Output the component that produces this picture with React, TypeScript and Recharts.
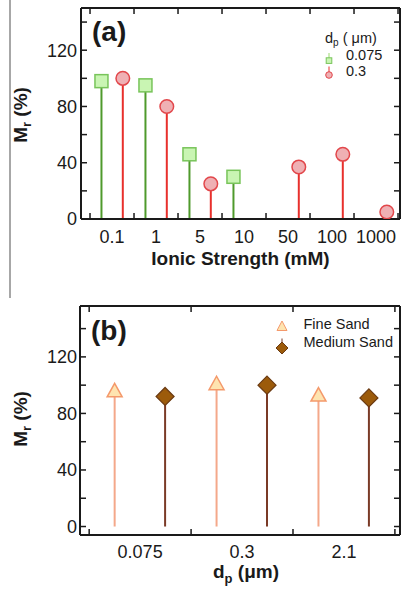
import React from "react";
import { ComposedChart, XAxis, YAxis, Scatter, ReferenceLine, Label } from "recharts";

// panel (a): recovery vs ionic strength, two particle sizes
const ionicCats = ["0.1", "1", "5", "10", "50", "100", "1000"];
const mr0075 = [98, 95, 46, 30, null, null, null];
const mr03 = [100, 80, 25, null, 37, 46, 5];

// panel (b): recovery vs particle size, two sands
const sizeCats = ["0.075", "0.3", "2.1"];
const fineSand = [96, 101, 93];
const mediumSand = [92, 100, 91];

const yTicks = [0, 20, 40, 60, 80, 100, 120, 140];
const yLabelTicks = [0, 40, 80, 120];

const FONT = '"Liberation Sans", Arial, Helvetica, sans-serif';
const INK = "#1a1a1a";

type Pt = { x: number; y: number };

function stemPoints(vals: (number | null)[], off: number): Pt[] {
  return vals.flatMap((v, i) => (v == null ? [] : [{ x: i + 0.5 + off, y: v }]));
}

const square = ({ cx, cy }: any) => (
  <rect x={cx - 6.5} y={cy - 6.5} width={13} height={13} fill="#c9f5b3" stroke="#78c45a" strokeWidth={1.5} />
);
const circle = ({ cx, cy }: any) => (
  <circle cx={cx} cy={cy} r={6.8} fill="#efb0b4" stroke="#e2474b" strokeWidth={1.5} />
);
const triangle = ({ cx, cy }: any) => (
  <polygon
    points={`${cx},${cy - 7.5} ${cx + 7.5},${cy + 6} ${cx - 7.5},${cy + 6}`}
    fill="#fee4b0"
    stroke="#f4996b"
    strokeWidth={1.5}
  />
);
const diamond = ({ cx, cy }: any) => (
  <polygon
    points={`${cx},${cy - 9} ${cx + 9},${cy} ${cx},${cy + 9} ${cx - 9},${cy}`}
    fill="#9c5b0b"
    stroke="#6b3a12"
    strokeWidth={1.2}
  />
);

type Series = { name: string; points: Pt[]; stem: string; shape: (p: any) => React.ReactElement };

const axisLine = { stroke: INK, strokeWidth: 2 };
const tickLine = { stroke: INK, strokeWidth: 1.5 };
const tickFont = { fontSize: 18, fill: INK, fontFamily: FONT };
const blank = () => "";

function yTitle(center: number) {
  return (p: any) => {
    const vb = p.viewBox;
    const bx = vb.x + 27;
    const cy = vb.y + vb.height / 2 + center;
    return (
      <text
        x={bx}
        y={cy}
        transform={`rotate(-90, ${bx}, ${cy})`}
        textAnchor="middle"
        fontFamily={FONT}
        fontWeight="bold"
        fontSize={19}
        fill={INK}
      >
        M<tspan dy={4} fontSize={13}>r</tspan>
        <tspan dy={-4}> (%)</tspan>
      </text>
    );
  };
}

function StemPanel(props: {
  cats: string[];
  series: Series[];
  yDomain: [number, number];
  height: number;
  top: number;
  leftW: number;
  bottomH: number;
  labMargin: number;
  yMargin: number;
  xPad: [number, number];
  xTitle: (p: any) => React.ReactElement;
  yShift: number;
}) {
  const { cats, series, yDomain, height, top, leftW, bottomH } = props;
  const n = cats.length;
  const xDomain: [number, number] = [-props.xPad[0], n + props.xPad[1]];
  const bounds = Array.from({ length: n + 1 }, (_, i) => i);
  const centers = cats.map((_, i) => i + 0.5);
  // series 0 sits on bottom/left axes, series 1 on top/right axes (same domains)
  const ids: [string, string][] = [
    ["b", "l"],
    ["t", "r"],
  ];

  return (
    <ComposedChart width={404} height={height} margin={{ top, right: 4, bottom: 0, left: 0 }}>
      <XAxis
        xAxisId="lab"
        type="number"
        dataKey="x"
        domain={xDomain}
        allowDataOverflow
        ticks={centers}
        interval={0}
        tickFormatter={(v: number) => cats[Math.round(v - 0.5)]}
        tick={tickFont}
        tickSize={0}
        tickMargin={props.labMargin}
        height={bottomH}
        axisLine={false}
        tickLine={false}
      >
        <Label content={props.xTitle} />
      </XAxis>
      <XAxis
        xAxisId="b"
        mirror
        type="number"
        dataKey="x"
        domain={xDomain}
        allowDataOverflow
        ticks={bounds}
        interval={0}
        tickFormatter={blank}
        tickSize={6}
        height={1}
        axisLine={axisLine}
        tickLine={tickLine}
      />
      <XAxis
        xAxisId="t"
        orientation="top"
        mirror
        type="number"
        dataKey="x"
        domain={xDomain}
        allowDataOverflow
        ticks={bounds}
        interval={0}
        tickFormatter={blank}
        tickSize={6}
        height={1}
        axisLine={axisLine}
        tickLine={tickLine}
      />
      <YAxis
        yAxisId="lab"
        type="number"
        dataKey="y"
        domain={yDomain}
        allowDataOverflow
        ticks={yLabelTicks}
        interval={0}
        tick={tickFont}
        tickSize={0}
        tickMargin={props.yMargin}
        width={leftW}
        axisLine={false}
        tickLine={false}
      >
        <Label content={yTitle(props.yShift)} />
      </YAxis>
      <YAxis
        yAxisId="l"
        mirror
        type="number"
        dataKey="y"
        domain={yDomain}
        allowDataOverflow
        ticks={yTicks}
        interval={0}
        tickFormatter={blank}
        tickSize={6}
        width={1}
        axisLine={axisLine}
        tickLine={tickLine}
      />
      <YAxis
        yAxisId="r"
        orientation="right"
        mirror
        type="number"
        dataKey="y"
        domain={yDomain}
        allowDataOverflow
        ticks={yTicks}
        interval={0}
        tickFormatter={blank}
        tickSize={6}
        width={1}
        axisLine={axisLine}
        tickLine={tickLine}
      />
      {series.map((s, k) =>
        s.points.map((p, i) => (
          <ReferenceLine
            key={s.name + i}
            xAxisId={ids[k][0]}
            yAxisId={ids[k][1]}
            segment={[
              { x: p.x, y: 0 },
              { x: p.x, y: p.y },
            ]}
            stroke={s.stem}
            strokeWidth={2}
          />
        ))
      )}
      {series.map((s, k) => (
        <Scatter
          key={s.name}
          name={s.name}
          data={s.points}
          xAxisId={ids[k][0]}
          yAxisId={ids[k][1]}
          shape={s.shape}
          isAnimationActive={false}
        />
      ))}
    </ComposedChart>
  );
}

const seriesA: Series[] = [
  { name: "0.075", points: stemPoints(mr0075, -0.24), stem: "#4f9a2c", shape: square },
  { name: "0.3", points: stemPoints(mr03, 0.245), stem: "#e8302c", shape: circle },
];
const seriesB: Series[] = [
  { name: "Fine Sand", points: stemPoints(fineSand, -0.25), stem: "#f4a88a", shape: triangle },
  { name: "Medium Sand", points: stemPoints(mediumSand, 0.245), stem: "#7a3a26", shape: diamond },
];

const titleA = (p: any) => {
  const vb = p.viewBox;
  return (
    <text
      x={vb.x + vb.width / 2}
      y={vb.y + 46}
      textAnchor="middle"
      fontFamily={FONT}
      fontWeight="bold"
      fontSize={19}
      fill={INK}
    >
      Ionic Strength (mM)
    </text>
  );
};

const titleB = (p: any) => {
  const vb = p.viewBox;
  return (
    <text
      x={vb.x + vb.width / 2 + 6}
      y={vb.y + 43}
      textAnchor="middle"
      fontFamily={FONT}
      fontWeight="bold"
      fontSize={19}
      fill={INK}
    >
      d<tspan dy={5} fontSize={13}>p</tspan>
      <tspan dy={-5}> (μm)</tspan>
    </text>
  );
};

export default function App() {
  return (
    <div
      style={{
        position: "absolute",
        left: 0,
        top: 0,
        width: 404,
        height: 592,
        background: "#fff",
        fontFamily: FONT,
        overflow: "hidden",
      }}
    >
      <div style={{ position: "absolute", left: 0, top: 0 }}>
        <StemPanel
          cats={ionicCats}
          series={seriesA}
          yDomain={[0, 150]}
          height={290}
          top={8}
          leftW={81}
          bottomH={71}
          labMargin={11}
          yMargin={4}
          xPad={[0.205, 0.045]}
          xTitle={titleA}
          yShift={1.5}
        />
      </div>
      <div style={{ position: "absolute", left: 0, top: 290 }}>
        <StemPanel
          cats={sizeCats}
          series={seriesB}
          yDomain={[-6, 156]}
          height={302}
          top={16}
          leftW={80}
          bottomH={57}
          labMargin={10.5}
          yMargin={3}
          xPad={[0.09, 0.05]}
          xTitle={titleB}
          yShift={-1.5}
        />
      </div>
      <svg
        width={404}
        height={592}
        style={{ position: "absolute", left: 0, top: 0, pointerEvents: "none" }}
        fontFamily={FONT}
      >
        <line x1={10} y1={0} x2={10} y2={298} stroke="#8a8a8a" strokeWidth={1.5} />
        <text x={92} y={41} fontSize={28} fontWeight="bold" fill={INK}>(a)</text>
        <text x={91} y={340} fontSize={28} fontWeight="bold" fill={INK}>(b)</text>

        {/* legend (a) */}
        <text x={325} y={42.5} fontSize={14.5} fill={INK}>
          d<tspan dy={3} fontSize={10}>p</tspan>
          <tspan dy={-3}> ( μm)</tspan>
        </text>
        <line x1={329} y1={53} x2={329} y2={58} stroke="#9bd86f" strokeWidth={1} />
        <rect x={326.2} y={57.8} width={5.6} height={5.6} fill="#c9f5b3" stroke="#78c45a" strokeWidth={1} />
        <text x={346} y={60} fontSize={14.5} fill={INK}>0.075</text>
        <line x1={329} y1={66.5} x2={329} y2={72} stroke="#e8302c" strokeWidth={1} />
        <circle cx={329} cy={75} r={3.3} fill="#efb0b4" stroke="#e2474b" strokeWidth={1} />
        <text x={346} y={76} fontSize={14.5} fill={INK}>0.3</text>

        {/* legend (b) */}
        <polygon points="282,321 287,330.5 277,330.5" fill="#fee4b0" stroke="#f4996b" strokeWidth={1} />
        <text x={303.5} y={329.3} fontSize={14.5} fill={INK}>Fine Sand</text>
        <line x1={282} y1={338.5} x2={282} y2={342} stroke="#7a3a26" strokeWidth={1} />
        <polygon points="282,342 288,348 282,354 276,348" fill="#9c5b0b" stroke="#6b3a12" strokeWidth={1} />
        <text x={303.5} y={347.3} fontSize={14.5} fill={INK}>Medium Sand</text>
      </svg>
    </div>
  );
}
